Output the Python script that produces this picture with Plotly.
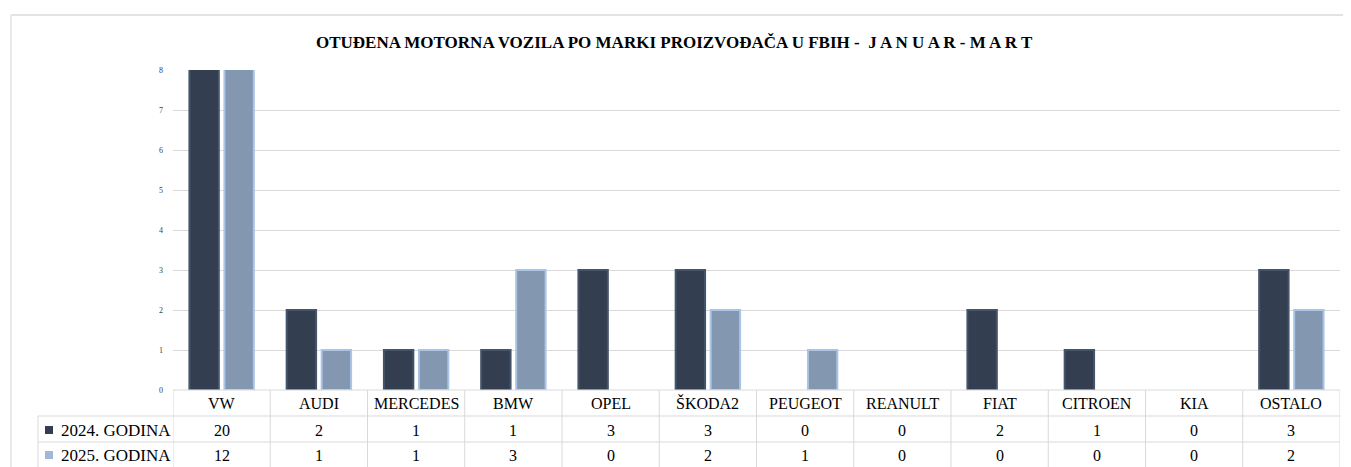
import plotly.graph_objects as go

categories = ["VW", "AUDI", "MERCEDES", "BMW", "OPEL", "ŠKODA2", "PEUGEOT", "REANULT", "FIAT", "CITROEN", "KIA", "OSTALO"]
series_2024 = [20, 2, 1, 1, 3, 3, 0, 0, 2, 1, 0, 3]
series_2025 = [12, 1, 1, 3, 0, 2, 1, 0, 0, 0, 0, 2]
series_names = ["2024. GODINA", "2025. GODINA"]
y_ticks = [0, 1, 2, 3, 4, 5, 6, 7, 8]
title_text = "OTUĐENA MOTORNA VOZILA PO MARKI PROIZVOĐAČA U FBIH -  J A N U A R - M A R T"

# page body has an 8px margin; figure sized to fit the window
OFF = 8
W, H = 1351 - OFF, 467 - OFF
# plot area in window pixels: x 173..1340, y 70..390
L = 173 - OFF
R = W - (1340 - OFF)
T = 70 - OFF
B = H - (390 - OFF)
PW = W - L - R
PH = H - T - B

def px(X):
    return (X - OFF - L) / PW

def py(Y):
    return (H - B - (Y - OFF)) / PH

dark_fill = "#333f50"
dark_line = "#44546a"
light_fill = "#8497b0"
light_line = "#aac4e6"
grid_col = "#d9d9d9"
serif = "Liberation Serif, DejaVu Serif, serif"

fig = go.Figure()
fig.add_trace(go.Bar(x=categories, y=series_2024, name=series_names[0],
                     marker=dict(color=dark_fill,
                                 line=dict(color=dark_line, width=[2 if v else 0 for v in series_2024]))))
fig.add_trace(go.Bar(x=categories, y=series_2025, name=series_names[1],
                     marker=dict(color=light_fill,
                                 line=dict(color=light_line, width=[2 if v else 0 for v in series_2025]))))

shapes = []
annotations = []
n = len(categories)

for i in range(n + 1):
    shapes.append(dict(type="line", xref="x", yref="paper", x0=i - 0.5, x1=i - 0.5,
                       y0=py(390), y1=py(475), line=dict(color=grid_col, width=1)))
shapes.append(dict(type="line", xref="paper", yref="paper", x0=px(173), x1=px(1340),
                   y0=py(390), y1=py(390), line=dict(color=grid_col, width=1)))
for Y in (416, 442):
    shapes.append(dict(type="line", xref="paper", yref="paper", x0=px(38), x1=px(1340),
                       y0=py(Y), y1=py(Y), line=dict(color=grid_col, width=1)))
shapes.append(dict(type="line", xref="paper", yref="paper", x0=px(38), x1=px(38),
                   y0=py(416), y1=py(475), line=dict(color=grid_col, width=1)))
# outer frame
shapes.append(dict(type="line", xref="paper", yref="paper", x0=px(11), x1=px(1351),
                   y0=py(15), y1=py(15), line=dict(color="#e3e3e3", width=2)))
shapes.append(dict(type="line", xref="paper", yref="paper", x0=px(11), x1=px(11),
                   y0=py(15), y1=py(475), line=dict(color="#e3e3e3", width=1.5)))
# legend keys
for Y, col in ((430, dark_fill), (455, "#a3b8d6")):
    shapes.append(dict(type="rect", xref="paper", yref="paper", x0=px(45), x1=px(53),
                       y0=py(Y - 4), y1=py(Y + 4), fillcolor=col, line=dict(width=0)))

for i, c in enumerate(categories):
    annotations.append(dict(x=c, xref="x", y=py(403), yref="paper", text=c, showarrow=False,
                            font=dict(family=serif, size=16, color="#000000"),
                            xanchor="center", yanchor="middle"))
    for Y, vals in ((430, series_2024), (455, series_2025)):
        annotations.append(dict(x=c, xref="x", y=py(Y), yref="paper", text=str(vals[i]),
                                showarrow=False, font=dict(family=serif, size=16, color="#000000"),
                                xanchor="center", yanchor="middle"))
for Y, name in ((430, series_names[0]), (455, series_names[1])):
    annotations.append(dict(x=px(59), xref="paper", y=py(Y), yref="paper", text=name,
                            showarrow=False, font=dict(family=serif, size=17, color="#000000"),
                            xanchor="left", yanchor="middle"))

annotations.append(dict(x=px(674), xref="paper", y=py(42), yref="paper", text="<b>" + title_text + "</b>",
                        showarrow=False, font=dict(family=serif, size=17, color="#000000"),
                        xanchor="center", yanchor="middle"))

fig.update_layout(
    width=W, height=H,
    margin=dict(l=L, r=R, t=T, b=B, pad=0),
    paper_bgcolor="white", plot_bgcolor="white",
    showlegend=False,
    barmode="group", bargap=0.28, bargroupgap=0.16,
    shapes=shapes, annotations=annotations,
    xaxis=dict(showticklabels=False, showgrid=False, zeroline=False, showline=False,
               range=[-0.5, n - 0.5], fixedrange=True),
    yaxis=dict(range=[0, 8], tickvals=y_ticks, showgrid=True, gridcolor=grid_col, gridwidth=1,
               zeroline=False, showline=False, ticks="", ticklabelstandoff=9,
               tickfont=dict(family=serif, size=8, color="#404040"), fixedrange=True),
)
fig.write_html("out.html")
